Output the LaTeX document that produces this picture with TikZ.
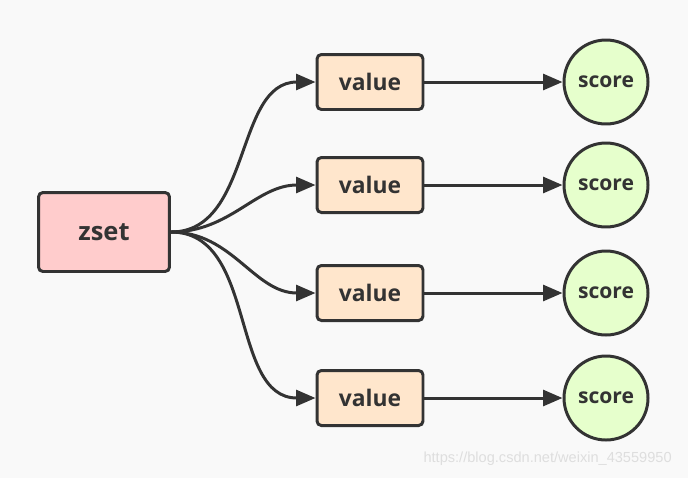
\documentclass[tikz,border=0pt]{standalone}
\usepackage{fontspec}
\setmainfont{Open Sans}
\newfontfamily\wmfont{Liberation Sans}
\usetikzlibrary{arrows.meta}
\definecolor{bgcol}{HTML}{F9F9F9}
\definecolor{edgecol}{HTML}{333333}
\definecolor{zsetcol}{HTML}{FFCCCC}
\definecolor{valuecol}{HTML}{FFE6CC}
\definecolor{scorecol}{HTML}{E6FFCC}

\begin{document}
\begin{tikzpicture}
  [x=0.02cm,y=-0.02cm,line width=1.7pt,
   every node/.style={draw=edgecol,text=edgecol,font=\bfseries},
   zsetbox/.style={rectangle,rounded corners=2.5pt,fill=zsetcol,minimum width=2.62cm,minimum height=1.58cm,font=\bfseries\fontsize{14.5}{16}\selectfont},
   valuebox/.style={rectangle,rounded corners=2.5pt,fill=valuecol,minimum width=2.12cm,minimum height=1.1cm,font=\bfseries\fontsize{13}{15}\selectfont},
   scorenode/.style={circle,fill=scorecol,minimum size=1.68cm,inner sep=0pt,font=\bfseries\fontsize{12}{14}\selectfont},
   link/.style={draw=edgecol,-{Triangle[length=11pt,width=9pt]}}]
  \fill[bgcol] (0,0) rectangle (688,478);
  \useasboundingbox (0,0) rectangle (688,478);
  \node[zsetbox] (zset) at (104,232) {zset};
  \foreach \i/\y in {1/82,2/185,3/293,4/398} {
    \node[valuebox] (v\i) at (370,\y) {value};
    \node[scorenode] (s\i) at (606,\y) {score};
    \draw[link] (zset.east) to[out=0,in=180] (v\i.west);
    \draw[link] (v\i) -- (s\i);
  }
  \node[draw=none,text=black!13,font=\wmfont\fontsize{8.3}{10}\selectfont,anchor=east] (wm) at (679,459) {https://blog.csdn.net/weixin\_43559950};
\end{tikzpicture}
\end{document}
